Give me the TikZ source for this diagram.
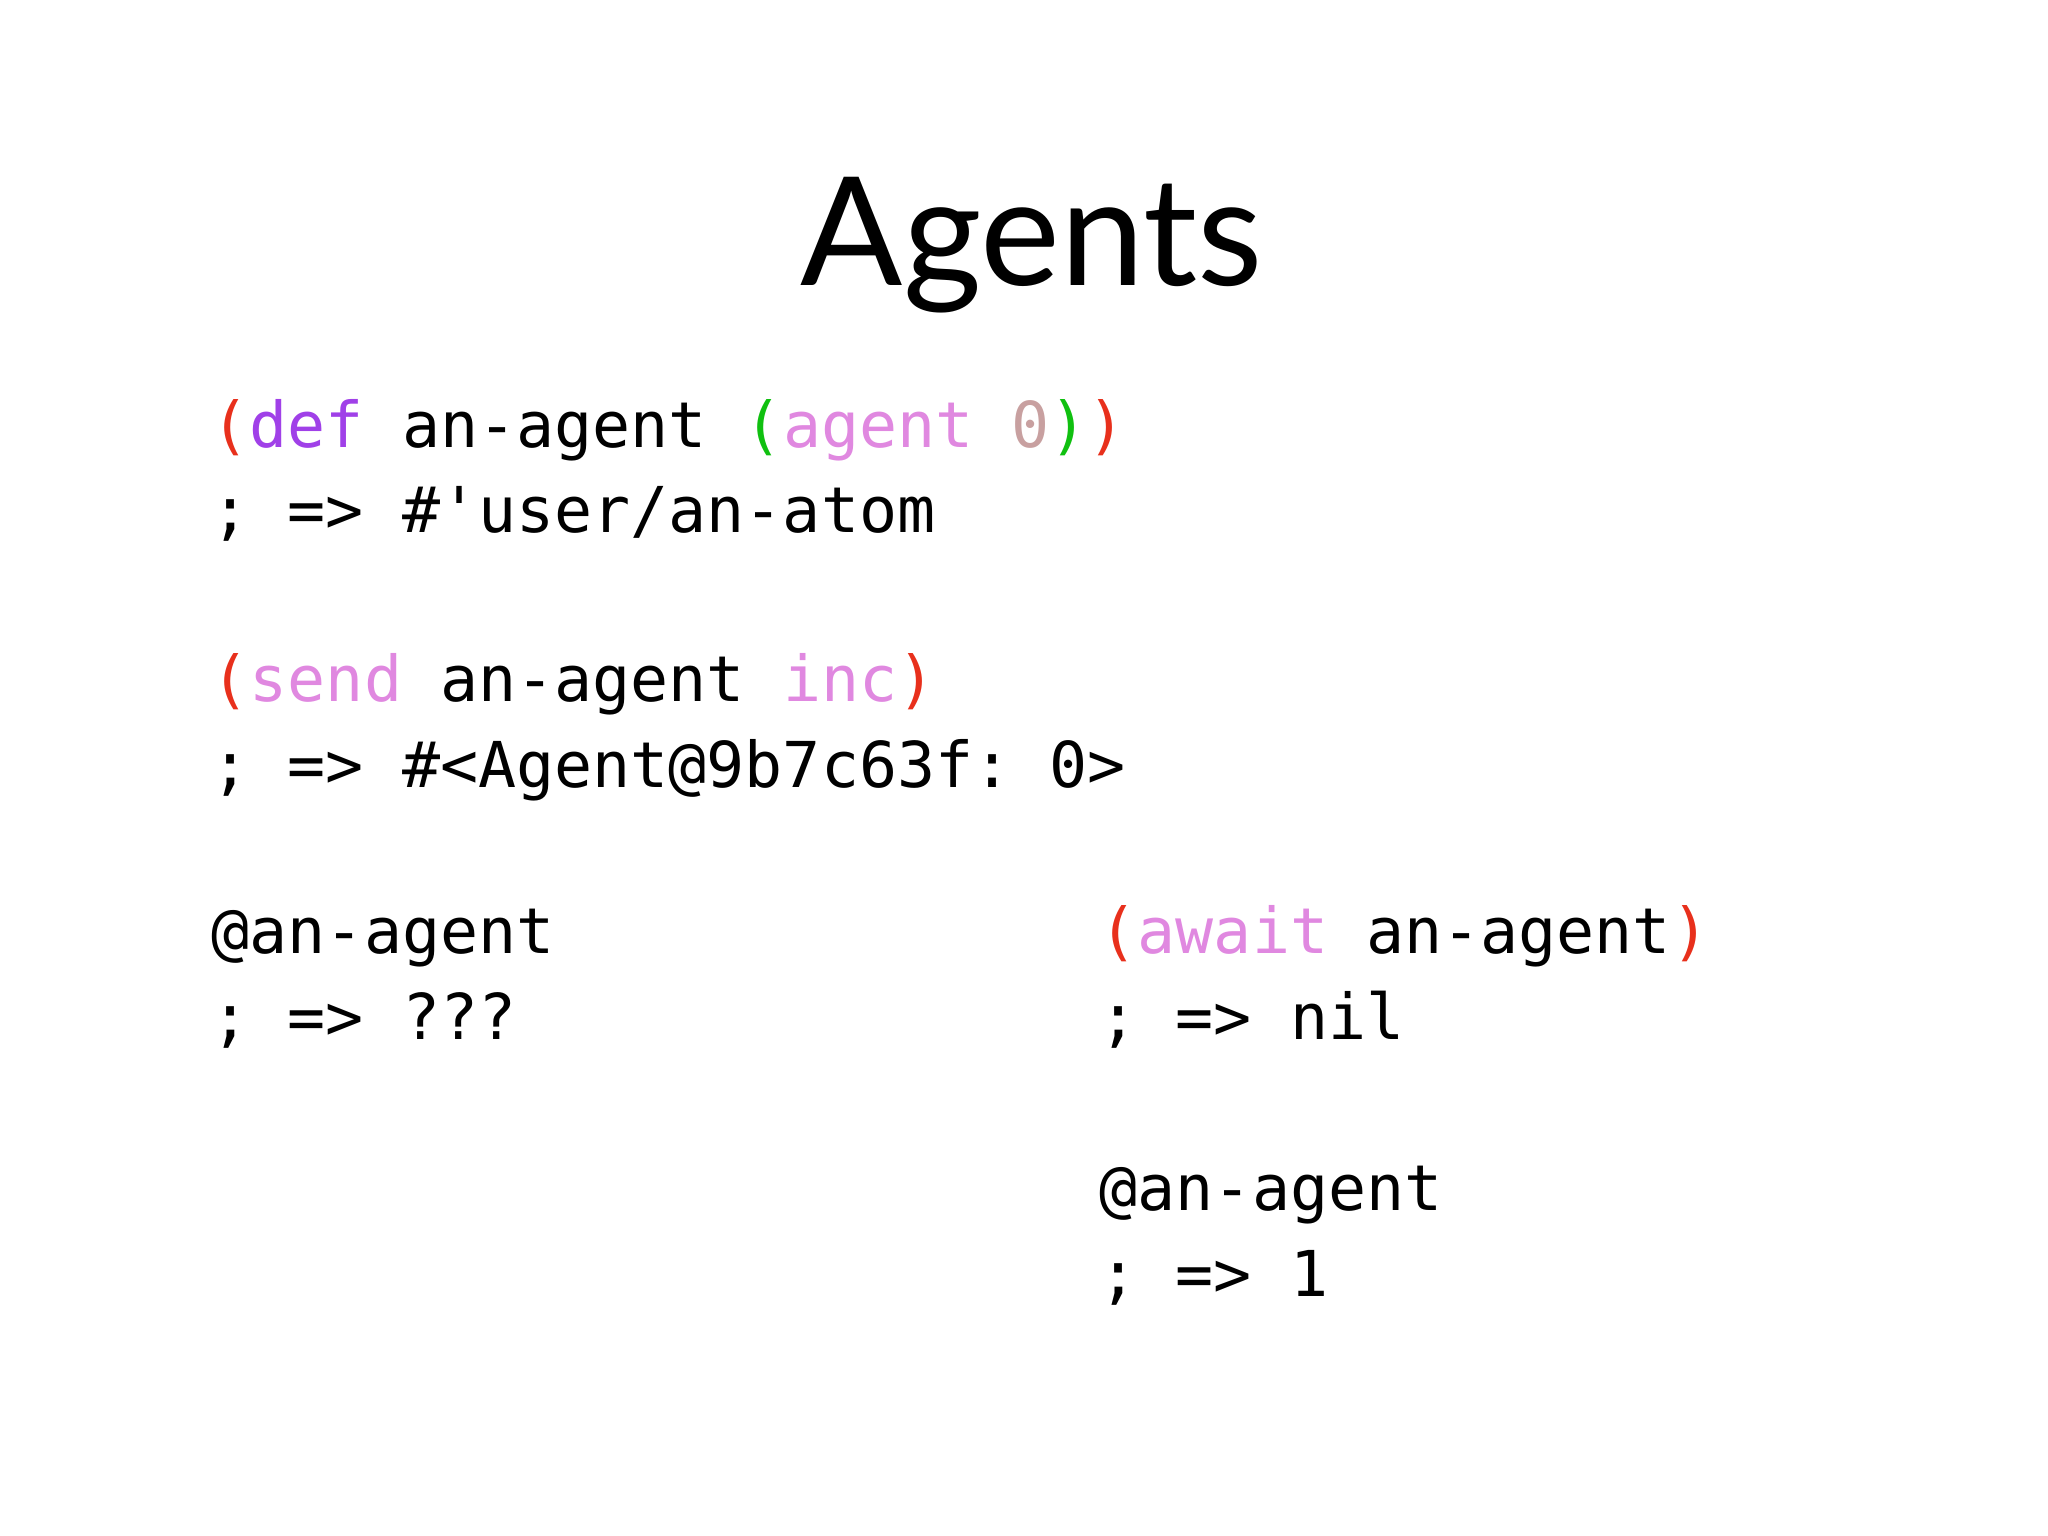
\documentclass[tikz,border=0pt]{standalone}
\usepackage{fontspec}
\setmainfont{Lato}
\setmonofont{DejaVu Sans Mono}
\definecolor{cred}{HTML}{E8301C}
\definecolor{cpur}{HTML}{A040E8}
\definecolor{cgrn}{HTML}{10C010}
\definecolor{cpink}{HTML}{E088E0}
\definecolor{cnum}{HTML}{C8A0A0}
\begin{document}
\begin{tikzpicture}[code/.style={anchor=base west,inner sep=0pt,font=\ttfamily\fontsize{18}{20}\selectfont}]
\useasboundingbox (0,0) rectangle (20.48,15.36);
\fill[white] (0,0) rectangle (20.48,15.36);
\node[anchor=base,inner sep=0pt,font=\fontsize{43}{48}\selectfont] (title) at (10.32,12.50) {Agents};
\node[code] (l1) at (2.11,10.88) {\textcolor{cred}{(}\textcolor{cpur}{def} an-agent \textcolor{cgrn}{(}\textcolor{cpink}{agent} \textcolor{cnum}{0}\textcolor{cgrn}{)}\textcolor{cred}{)}};
\node[code] (l2) at (2.11,10.03) {; => \#'user/an-atom};
\node[code] (l3) at (2.11,8.34) {\textcolor{cred}{(}\textcolor{cpink}{send} an-agent \textcolor{cpink}{inc}\textcolor{cred}{)}};
\node[code] (l4) at (2.11,7.48) {; => \#<Agent@9b7c63f: 0>};
\node[code] (l5) at (2.11,5.82) {@an-agent};
\node[code] (l6) at (2.11,4.96) {; => ???};
\node[code] (r1) at (10.99,5.82) {\textcolor{cred}{(}\textcolor{cpink}{await} an-agent\textcolor{cred}{)}};
\node[code] (r2) at (10.99,4.96) {; => nil};
\node[code] (r3) at (10.99,3.25) {@an-agent};
\node[code] (r4) at (10.99,2.39) {; => 1};
\end{tikzpicture}
\end{document}
